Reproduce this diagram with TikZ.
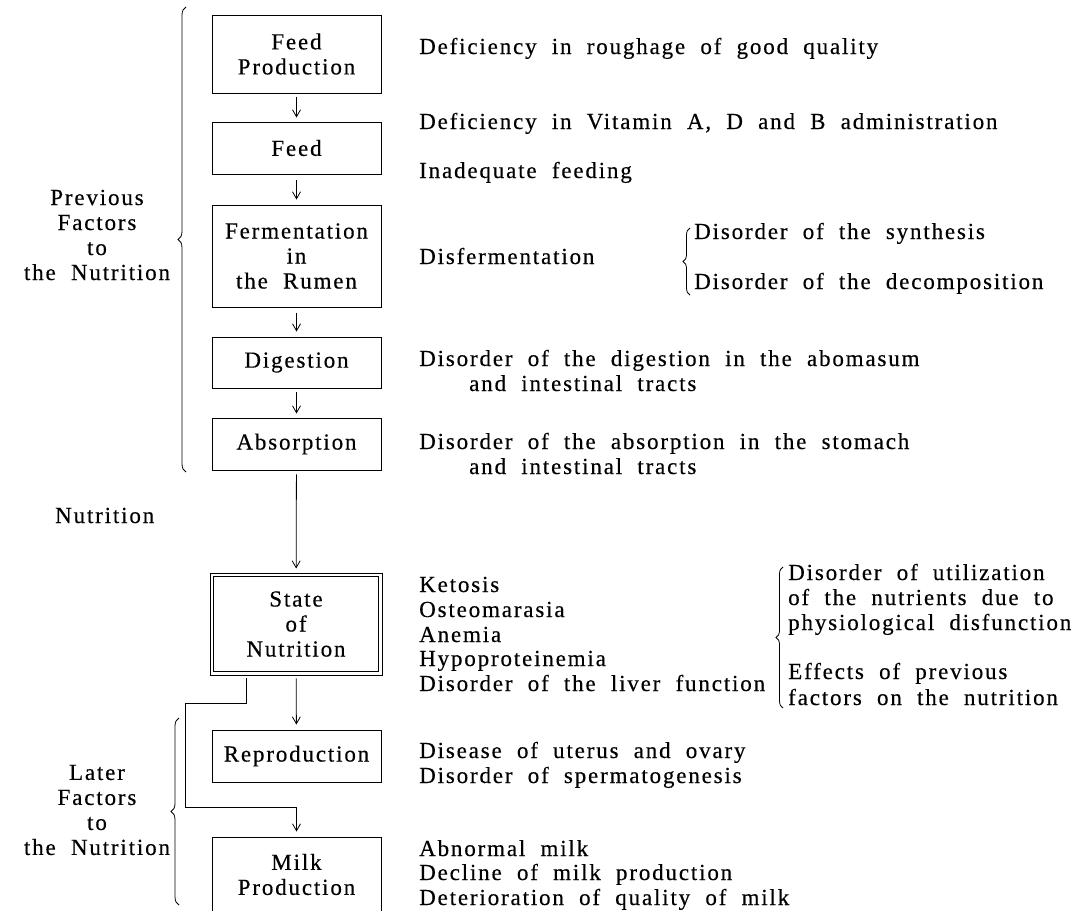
\documentclass[tikz,border=0pt]{standalone}
\usepackage{fontspec}
\setmainfont{Liberation Serif}[LetterSpace=8, WordSpace=2.0, FakeBold=0.4]
\usetikzlibrary{arrows.meta,decorations.pathreplacing}
\begin{document}
\begin{tikzpicture}[x=1pt,y=-1pt,
  txt/.style={font=\fontsize{23}{25}\selectfont, inner sep=0pt},
  box/.style={txt, draw, line width=0.9pt, minimum width=169pt, align=center},
  lab/.style={txt, anchor=base west},
  arr/.style={line width=0.8pt, -{Straight Barb[length=7pt,width=8pt]}},
  conn/.style={line width=0.8pt},
  brc/.style={decorate, decoration={brace, amplitude=#1}, line width=0.8pt}]
\useasboundingbox (0,0) rectangle (1078,910);

% boxes
\node[box, minimum height=78pt]  (fp)    at (296.5,54)    {Feed\\Production};
\node[box, minimum height=52pt]  (feed)  at (296.5,148)   {Feed};
\node[box, minimum height=102pt] (ferm)  at (296.5,256)   {Fermentation\\in\\the Rumen};
\node[box, minimum height=51pt]  (dig)   at (296.5,362.5) {Digestion};
\node[box, minimum height=52pt]  (abs)   at (296.5,444)   {Absorption};
\node[box, minimum height=102pt, minimum width=172pt] (state) at (296,624) {State\\of\\Nutrition};
\draw[line width=0.9pt] ([shift={(4,4)}]state.north west) rectangle ([shift={(-4,-4)}]state.south east);
\node[box, minimum height=52pt]  (rep)   at (296.5,756)   {Reproduction};
\node[box, minimum height=75pt]  (milk)  at (296.5,874.5) {Milk\\Production};

% arrows
\draw[arr, shorten <=4pt, shorten >=4pt] (fp) -- (feed);
\draw[arr, shorten <=6pt, shorten >=5pt] (feed) -- (ferm);
\draw[arr, shorten <=6pt, shorten >=5pt] (ferm) -- (dig);
\draw[arr, shorten <=4pt, shorten >=4pt] (dig) -- (abs);
\draw[arr, shorten <=4pt, shorten >=4pt] (abs) -- (state);
\draw[arr, shorten <=3pt, shorten >=5pt] (state) -- (rep);

\coordinate (c1) at (246,703);
\coordinate (c2) at (185,703);
\coordinate (c3) at (185,807);
\coordinate (c4) at (296.5,807);
\draw[conn, shorten <=3pt] (state.south -| c1) -- (c1) -- (c2) -- (c3) -- (c4);
\draw[arr, shorten >=5pt] (c4) -- (milk.north);

% left labels
\node[txt, align=center] (prev) at (97,235) {Previous\\Factors\\to\\the Nutrition};
\node[lab] (nut) at (55,523) {Nutrition};
\node[txt, align=center] (later) at (97,810) {Later\\Factors\\to\\the Nutrition};

% braces
\draw[brc=8pt] (186,472) -- (186,7);
\draw[brc=8pt] (179,905) -- (179,718);
\draw[brc=7pt] (690,295) -- (690,228);
\draw[brc=7pt] (783,708) -- (783,567);

% right texts
\node[lab] (r1) at (419,54)  {Deficiency in roughage of good quality};
\node[lab] (r2) at (419,129) {Deficiency in Vitamin A, D and B administration};
\node[lab] (r3) at (419,178) {Inadequate feeding};
\node[lab] (r4) at (419,264) {Disfermentation};
\node[lab] (s1) at (694,239) {Disorder of the synthesis};
\node[lab] (s2) at (694,289) {Disorder of the decomposition};
\node[lab] (d1) at (419,366) {Disorder of the digestion in the abomasum};
\node[lab] (d2) at (469,391) {and intestinal tracts};
\node[lab] (a1) at (419,449) {Disorder of the absorption in the stomach};
\node[lab] (a2) at (469,474) {and intestinal tracts};
\node[lab] (n1) at (419,592) {Ketosis};
\node[lab] (n2) at (419,617) {Osteomarasia};
\node[lab] (n3) at (419,642) {Anemia};
\node[lab] (n4) at (419,666) {Hypoproteinemia};
\node[lab] (n5) at (419,691) {Disorder of the liver function};
\node[lab] (u1) at (788,580) {Disorder of utilization};
\node[lab] (u2) at (788,605) {of the nutrients due to};
\node[lab] (u3) at (788,630) {physiological disfunction};
\node[lab] (e1) at (788,679) {Effects of previous};
\node[lab] (e2) at (788,705) {factors on the nutrition};
\node[lab] (p1) at (419,758) {Disease of uterus and ovary};
\node[lab] (p2) at (419,783) {Disorder of spermatogenesis};
\node[lab] (m1) at (419,856) {Abnormal milk};
\node[lab] (m2) at (419,880) {Decline of milk production};
\node[lab] (m3) at (419,905) {Deterioration of quality of milk};
\end{tikzpicture}
\end{document}
